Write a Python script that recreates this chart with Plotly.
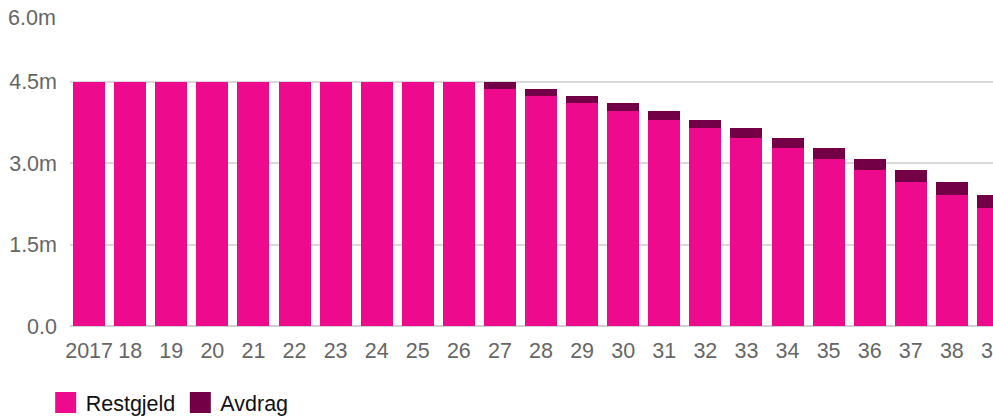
import plotly.graph_objects as go

years = ["2017", "18", "19", "20", "21", "22", "23", "24", "25", "26", "27", "28",
         "29", "30", "31", "32", "33", "34", "35", "36", "37", "38", "39"]
restgjeld = [4.5, 4.5, 4.5, 4.5, 4.5, 4.5, 4.5, 4.5, 4.5, 4.5,
             4.36, 4.23, 4.10, 3.96, 3.80, 3.64, 3.46, 3.27, 3.08, 2.87, 2.65, 2.42, 2.17]
avdrag = [0, 0, 0, 0, 0, 0, 0, 0, 0, 0,
          0.14, 0.13, 0.13, 0.14, 0.16, 0.16, 0.18, 0.19, 0.19, 0.21, 0.22, 0.23, 0.25]
y_ticks = [0, 1.5, 3.0, 4.5, 6.0]
y_ticktext = ["0.0", "1.5m", "3.0m", "4.5m", ""]

PINK = "#EE0A8C"
DARK = "#730047"
FONT = "Arial, Liberation Sans, sans-serif"
FS = 21.5

fig = go.Figure()
fig.add_trace(go.Bar(x=years, y=restgjeld, name="Restgjeld", marker_color=PINK,
                     marker_line_width=0, showlegend=False, legendgroup="r"))
fig.add_trace(go.Bar(x=years, y=avdrag, name="Avdrag", marker_color=DARK,
                     marker_line_width=0, showlegend=False, legendgroup="a"))
# legend entries
fig.add_trace(go.Scatter(x=[None], y=[None], mode="markers", name="Restgjeld",
                         legendgroup="r",
                         marker=dict(symbol="square", size=16, color=PINK,
                                     line=dict(color=PINK, width=5))))
fig.add_trace(go.Scatter(x=[None], y=[None], mode="markers", name="Avdrag",
                         legendgroup="a",
                         marker=dict(symbol="square", size=16, color=DARK,
                                     line=dict(color=DARK, width=5))))

fig.update_layout(
    width=993, height=417,
    barmode="stack", bargap=0.22,
    margin=dict(l=70, r=0, t=0, b=91, autoexpand=False),
    paper_bgcolor="white", plot_bgcolor="white",
    font=dict(family=FONT, size=FS, color="#666666"),
    showlegend=True,
    legend=dict(orientation="h", xref="container", yref="container",
                x=0.046, y=0.035, xanchor="left", yanchor="middle",
                font=dict(family=FONT, size=FS, color="#111111"),
                itemsizing="trace", tracegroupgap=0, bgcolor="rgba(0,0,0,0)"),
    xaxis=dict(type="category", range=[-0.465, 22.001], showgrid=False,
               automargin=False,
               tickfont=dict(family=FONT, size=FS, color="#666666"),
               ticks="", ticklabelstandoff=9, showline=False, zeroline=False),
    yaxis=dict(range=[0, 6.0], tickvals=y_ticks, ticktext=y_ticktext,
               automargin=False,
               showgrid=True, gridcolor="#d9d9d9", gridwidth=1.5,
               zeroline=True, zerolinecolor="#d0d0d0", zerolinewidth=1.5,
               tickfont=dict(family=FONT, size=FS, color="#666666"),
               ticks="", ticklabelstandoff=12, showline=False),
    annotations=[dict(text="6.0m", xref="paper", yref="y", x=0, y=6.0,
                      xanchor="right", yanchor="middle", xshift=-12, yshift=-18,
                      showarrow=False,
                      font=dict(family=FONT, size=FS, color="#666666"))],
)

fig.write_html("out.html", config={"displayModeBar": False},
               post_script="document.body.style.margin='0';document.body.style.padding='0';")
